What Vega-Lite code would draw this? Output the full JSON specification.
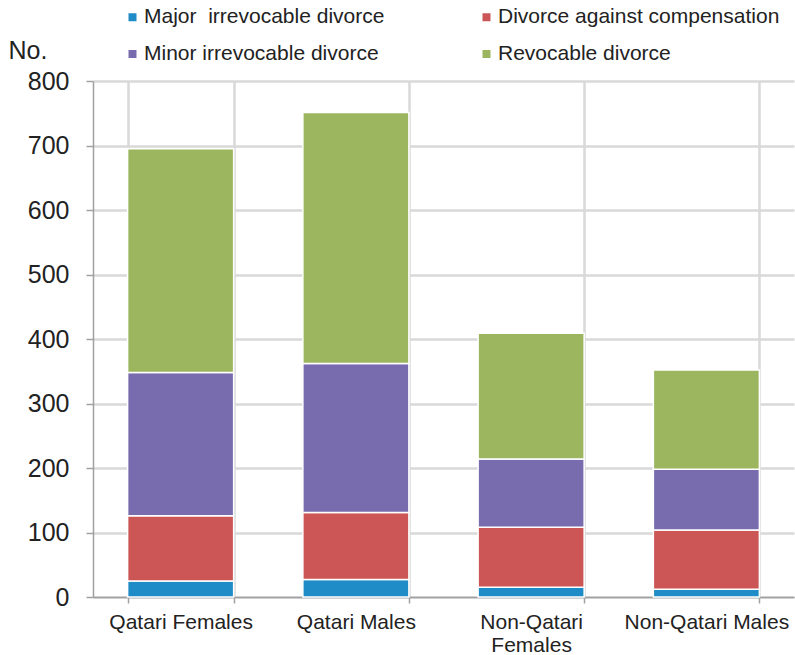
{
  "$schema": "https://vega.github.io/schema/vega-lite/v6.json",
  "autosize": "none",
  "width": 701,
  "height": 516,
  "padding": {"left": 93, "top": 81, "right": 1, "bottom": 58},
  "background": "white",
  "config": {
    "view": {"stroke": null},
    "font": "Liberation Sans",
    "axis": {"labelColor": "#222222", "titleColor": "#222222", "labelFont": "Liberation Sans", "titleFont": "Liberation Sans"},
    "legend": {"labelFont": "Liberation Sans"}
  },
  "data": {
    "values": [
      {"group": "Qatari Females", "type": "Major\u00a0 irrevocable divorce", "rank": 1, "value": 25},
      {"group": "Qatari Females", "type": "Divorce against compensation", "rank": 2, "value": 101},
      {"group": "Qatari Females", "type": "Minor irrevocable divorce", "rank": 3, "value": 222},
      {"group": "Qatari Females", "type": "Revocable divorce", "rank": 4, "value": 347},
      {"group": "Qatari Males", "type": "Major\u00a0 irrevocable divorce", "rank": 1, "value": 27},
      {"group": "Qatari Males", "type": "Divorce against compensation", "rank": 2, "value": 104},
      {"group": "Qatari Males", "type": "Minor irrevocable divorce", "rank": 3, "value": 231},
      {"group": "Qatari Males", "type": "Revocable divorce", "rank": 4, "value": 389},
      {"group": "Non-Qatari Females", "type": "Major\u00a0 irrevocable divorce", "rank": 1, "value": 15},
      {"group": "Non-Qatari Females", "type": "Divorce against compensation", "rank": 2, "value": 93},
      {"group": "Non-Qatari Females", "type": "Minor irrevocable divorce", "rank": 3, "value": 106},
      {"group": "Non-Qatari Females", "type": "Revocable divorce", "rank": 4, "value": 195},
      {"group": "Non-Qatari Males", "type": "Major\u00a0 irrevocable divorce", "rank": 1, "value": 12},
      {"group": "Non-Qatari Males", "type": "Divorce against compensation", "rank": 2, "value": 92},
      {"group": "Non-Qatari Males", "type": "Minor irrevocable divorce", "rank": 3, "value": 94},
      {"group": "Non-Qatari Males", "type": "Revocable divorce", "rank": 4, "value": 154}
    ]
  },
  "mark": {"type": "bar", "stroke": "white", "strokeWidth": 1.5},
  "encoding": {
    "x": {
      "field": "group",
      "type": "nominal",
      "sort": ["Qatari Females", "Qatari Males", "Non-Qatari Females", "Non-Qatari Males"],
      "scale": {"paddingInner": 0.395, "paddingOuter": 0.1975},
      "axis": {
        "title": null,
        "labelAngle": 0,
        "labelFontSize": 21,
        "labelPadding": 8,
        "labelLineHeight": 23,
        "labelLimit": 300,
        "labelExpr": "datum.value == 'Non-Qatari Females' ? ['Non-Qatari', 'Females'] : datum.value",
        "tickBand": "extent",
        "ticks": true,
        "tickSize": 6,
        "tickColor": "#a0a0a0",
        "tickWidth": 1.5,
        "domainColor": "#a0a0a0",
        "domainWidth": 1.5,
        "grid": true,
        "gridColor": "#d9d9d9",
        "gridWidth": 2.5
      }
    },
    "y": {
      "field": "value",
      "type": "quantitative",
      "stack": "zero",
      "scale": {"domain": [0, 800]},
      "axis": {
        "title": "No.",
        "titleAngle": 0,
        "titleAlign": "left",
        "titleBaseline": "alphabetic",
        "titleX": -85,
        "titleY": -23,
        "titleFontSize": 25,
        "titleFontWeight": "normal",
        "values": [0, 100, 200, 300, 400, 500, 600, 700, 800],
        "labelFontSize": 25,
        "labelPadding": 17,
        "tickSize": 7,
        "tickColor": "#a0a0a0",
        "tickWidth": 1.5,
        "domainColor": "#a0a0a0",
        "domainWidth": 1.5,
        "grid": true,
        "gridColor": "#d9d9d9",
        "gridWidth": 2.5
      }
    },
    "color": {
      "field": "type",
      "type": "nominal",
      "scale": {
        "domain": ["Major\u00a0 irrevocable divorce", "Minor irrevocable divorce", "Divorce against compensation", "Revocable divorce"],
        "range": ["#1f8bc7", "#786cae", "#cc5656", "#9cb660"]
      },
      "legend": {
        "title": null,
        "orient": "none",
        "legendX": 29,
        "legendY": -74.5,
        "columns": 2,
        "columnPadding": 91,
        "rowPadding": 15,
        "symbolType": "square",
        "symbolSize": 64,
        "symbolStrokeWidth": 0,
        "labelOffset": 1,
        "labelFontSize": 21,
        "labelColor": "#222222",
        "labelLimit": 400,
        "padding": 0
      }
    },
    "order": {"field": "rank", "type": "quantitative"}
  }
}
